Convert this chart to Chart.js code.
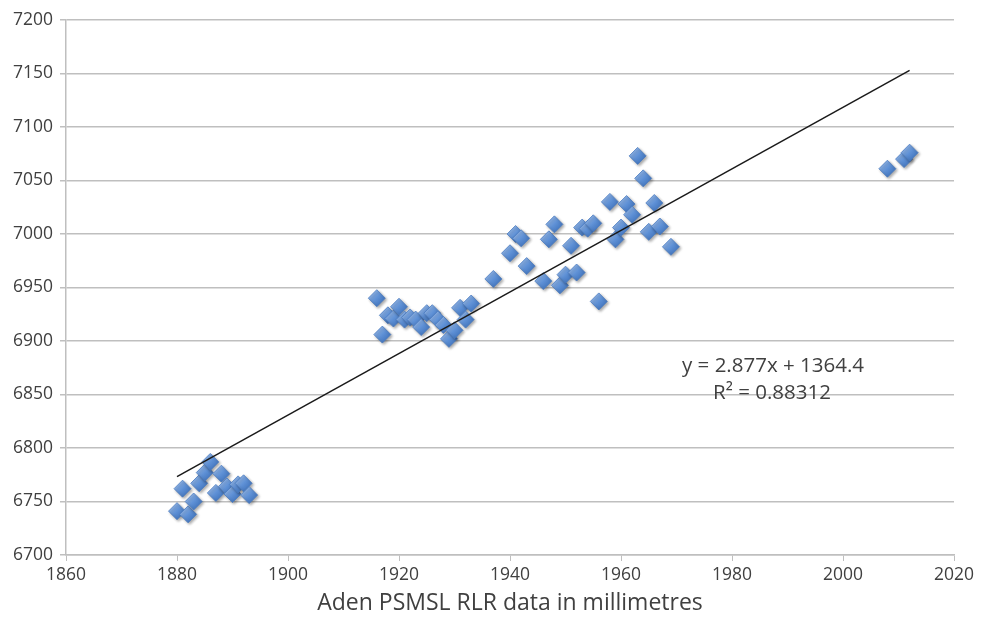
<!DOCTYPE html>
<html>
<head>
<meta charset="utf-8">
<script src="https://cdn.jsdelivr.net/npm/chart.js@4"></script>
<style>
  html, body { margin: 0; padding: 0; background: #fff; }
  #wrap { width: 988px; height: 619px; }
</style>
</head>
<body>
<div id="wrap"><canvas id="aden" width="988" height="619"></canvas></div>
<script>
// Aden PSMSL RLR annual mean sea level (mm)
var years = [
    1880, 1881, 1882, 1883, 1884, 1885, 1886, 1887, 1888, 1889, 1890, 1891, 1892, 1893,
    1916, 1917, 1918, 1919, 1920, 1921, 1922, 1923, 1924, 1925, 1926, 1927, 1928, 1929,
    1930, 1931, 1932, 1933, 1937,
    1940, 1941, 1942, 1943, 1946, 1947, 1948, 1949, 1950, 1951, 1952, 1953, 1954, 1955,
    1956, 1958, 1959, 1960, 1961, 1962, 1963, 1964, 1965, 1966, 1967, 1969,
    2008, 2011, 2012
];
var levels = [
    6741, 6762, 6738, 6750, 6767, 6777, 6787, 6758, 6776, 6764, 6757, 6766, 6767, 6756,
    6940, 6906, 6924, 6921, 6932, 6920, 6922, 6920, 6913, 6926, 6926, 6920, 6915, 6902,
    6910, 6931, 6920, 6935, 6958,
    6982, 7000, 6996, 6970, 6956, 6995, 7009, 6952, 6962, 6989, 6964, 7006, 7005, 7010,
    6937, 7030, 6995, 7006, 7028, 7018, 7073, 7052, 7002, 7029, 7007, 6988,
    7061, 7070, 7076
];
// linear trendline as printed on the chart
var trendSlope = 2.877;
var trendIntercept = 1364.4;
var trendR2 = '0.88312';

var xTicks = [1860, 1880, 1900, 1920, 1940, 1960, 1980, 2000, 2020];
var yTicks = [6700, 6750, 6800, 6850, 6900, 6950, 7000, 7050, 7100, 7150, 7200];

var points = years.map(function (yr, i) { return {x: yr, y: levels[i]}; });
var x0 = Math.min.apply(null, years), x1 = Math.max.apply(null, years);
var trend = [x0, x1].map(function (yr) { return {x: yr, y: trendSlope * yr + trendIntercept}; });

var txt = '#404040';
var grid = '#bfbfbf';

function diamondFill(ctx) {
    var c = ctx.chart, sx = c.scales.x, sy = c.scales.y;
    if (!sx || !sy || !ctx.raw) return '#5b8bd2';
    var px = sx.getPixelForValue(ctx.raw.x), py = sy.getPixelForValue(ctx.raw.y);
    if (!isFinite(px) || !isFinite(py)) return '#5b8bd2';
    var g = c.ctx.createLinearGradient(px - 6, py - 6, px + 6, py + 6);
    g.addColorStop(0, '#9bbdec');
    g.addColorStop(0.5, '#5f91d6');
    g.addColorStop(1, '#3f72bb');
    return g;
}

var shadowPlugin = {
    id: 'shadow',
    beforeDatasetDraw: function (chart, args) {
        if (args.index !== 1) return;
        var ctx = chart.ctx;
        ctx.save();
        ctx.shadowColor = 'rgba(0,0,0,0.35)';
        ctx.shadowBlur = 3;
        ctx.shadowOffsetX = 1.5;
        ctx.shadowOffsetY = 1.5;
    },
    afterDatasetDraw: function (chart, args) {
        if (args.index !== 1) return;
        chart.ctx.restore();
    }
};

var equationPlugin = {
    id: 'equation',
    afterDraw: function (chart) {
        var ctx = chart.ctx;
        ctx.save();
        ctx.fillStyle = txt;
        ctx.font = '20.5px "Open Sans"';
        ctx.textAlign = 'center';
        ctx.textBaseline = 'middle';
        ctx.fillText('y = ' + trendSlope + 'x + ' + trendIntercept, 773, 366);
        ctx.fillText('R\u00b2 = ' + trendR2, 772, 393);
        ctx.restore();
    }
};

var chart = new Chart(document.getElementById('aden').getContext('2d'), {
    type: 'scatter',
    data: {
        datasets: [{
            label: 'Linear trend',
            type: 'line',
            data: trend,
            borderColor: '#1a1a1a',
            borderWidth: 1.5,
            pointRadius: 0,
            fill: false
        }, {
            label: 'Aden',
            data: points,
            pointStyle: 'rectRot',
            pointRadius: 8.5,
            pointHoverRadius: 8.5,
            backgroundColor: diamondFill,
            borderColor: '#4a7bc0',
            borderWidth: 0.8
        }]
    },
    options: {
        responsive: false,
        animation: false,
        layout: {padding: {top: 20, right: 34, left: 0, bottom: 0}},
        scales: {
            x: {
                type: 'linear',
                min: 1860, max: 2020,
                afterBuildTicks: function (s) { s.ticks = xTicks.map(function (v) { return {value: v}; }); },
                afterFit: function (s) { s.height = 64; },
                grid: {drawOnChartArea: false, drawTicks: true, tickLength: 6, color: grid},
                border: {display: true, color: grid, width: 1.5},
                ticks: {color: txt, font: {family: 'Open Sans', size: 17.5}, padding: 4, maxRotation: 0,
                        callback: function (v) { return v; }},
                title: {display: true, text: 'Aden PSMSL RLR data in millimetres', color: txt,
                        font: {family: 'Open Sans', size: 23}, padding: {top: 0, bottom: 2}}
            },
            y: {
                type: 'linear',
                min: 6700, max: 7200,
                afterBuildTicks: function (s) { s.ticks = yTicks.map(function (v) { return {value: v}; }); },
                afterFit: function (s) { s.width = 66; },
                grid: {color: grid, lineWidth: 1.5, tickLength: 6},
                border: {display: true, color: grid, width: 1.5},
                ticks: {color: txt, font: {family: 'Open Sans', size: 17.5}, padding: 7,
                        callback: function (v) { return v; }}
            }
        },
        plugins: {
            legend: {display: false},
            tooltip: {enabled: false}
        }
    },
    plugins: [shadowPlugin, equationPlugin]
});
</script>
</body>
</html>
